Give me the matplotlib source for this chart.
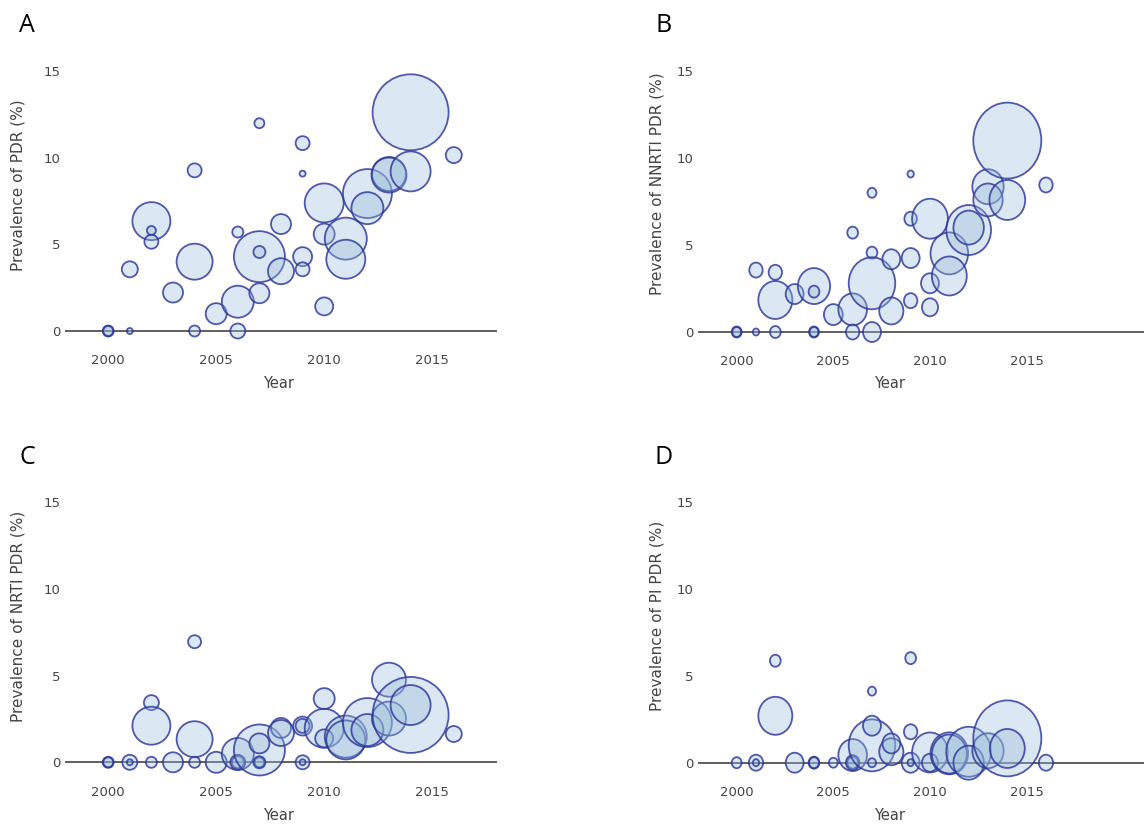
import matplotlib
matplotlib.use('Agg')
import matplotlib.pyplot as plt
import numpy as np
from matplotlib.path import Path
from matplotlib.markers import MarkerStyle
from matplotlib.transforms import Affine2D

# panel A: overall PDR
year_a = [2000, 2000, 2001, 2001, 2002, 2002, 2002, 2003, 2004, 2004, 2004, 2005,
          2006, 2006, 2006, 2007, 2007, 2007, 2007, 2008, 2008, 2009, 2009, 2009,
          2009, 2010, 2010, 2010, 2011, 2011, 2012, 2012, 2013, 2013, 2014, 2014, 2016]
prev_a = [0, 0, 0, 3.56, 6.34, 5.8, 5.15, 2.22, 9.27, 4.0, 0, 1.0,
          1.69, 5.71, 0, 11.99, 4.29, 4.56, 2.18, 6.17, 3.45, 10.84, 9.08, 4.29,
          3.56, 7.39, 5.59, 1.42, 5.33, 4.14, 7.93, 7.09, 9.06, 9.0, 12.62, 9.21, 10.15]
n_a = [54, 44, 16, 114, 642, 36, 87, 178, 87, 576, 54, 196,
       455, 54, 100, 44, 1156, 64, 178, 178, 300, 87, 16, 160,
       87, 676, 196, 144, 784, 676, 1067, 455, 514, 544, 2567, 711, 114]

# panel B: NNRTI PDR
year_b = [2000, 2000, 2001, 2001, 2002, 2002, 2002, 2003, 2004, 2004, 2004, 2004,
          2005, 2006, 2006, 2006, 2007, 2007, 2007, 2007, 2008, 2008, 2009, 2009,
          2009, 2009, 2010, 2010, 2010, 2011, 2011, 2012, 2012, 2013, 2013, 2014,
          2014, 2016]
prev_b = [0, 0, 0, 3.56, 0, 3.43, 1.84, 2.18, 2.64, 2.32, 0, 0,
          1.0, 1.30, 5.71, 0, 8.0, 4.56, 2.80, 0, 4.18, 1.21, 9.08, 6.51,
          4.25, 1.80, 6.51, 2.80, 1.42, 4.52, 3.22, 5.86, 6.0, 8.35, 7.59, 11.0,
          7.59, 8.45]
n_b = [54, 44, 22, 100, 64, 100, 642, 178, 576, 64, 54, 44,
       196, 455, 64, 100, 44, 64, 1202, 178, 178, 324, 22, 87,
       178, 100, 711, 178, 144, 784, 676, 1111, 514, 544, 480, 2567,
       711, 100]

# panel C: NRTI PDR
year_c = [2000, 2000, 2001, 2001, 2002, 2002, 2002, 2003, 2004, 2004, 2004, 2005,
          2006, 2006, 2006, 2007, 2007, 2007, 2007, 2008, 2008, 2009, 2009, 2009,
          2009, 2010, 2010, 2010, 2011, 2011, 2012, 2012, 2013, 2013, 2014, 2014, 2016]
prev_c = [0, 0, 0, 0, 0, 3.44, 2.11, 0, 6.95, 1.33, 0, 0,
          0.48, 0, 0, 0.71, 1.09, 0, 0, 1.98, 1.69, 2.09, 2.1, 0,
          0, 3.67, 1.96, 1.38, 1.48, 1.29, 2.29, 1.86, 4.76, 2.52, 2.73, 3.30, 1.63]
n_c = [54, 44, 100, 16, 54, 100, 642, 178, 75, 576, 54, 196,
       455, 64, 100, 1156, 178, 44, 64, 178, 300, 160, 87, 87,
       16, 196, 676, 144, 784, 676, 1067, 455, 514, 514, 2567, 711, 114]

# panel D: PI PDR
year_d = [2000, 2001, 2001, 2002, 2002, 2003, 2004, 2004, 2005, 2006, 2006, 2006,
          2007, 2007, 2007, 2007, 2008, 2008, 2009, 2009, 2009, 2009, 2010, 2010,
          2011, 2011, 2012, 2012, 2013, 2014, 2014, 2016]
prev_d = [0, 0, 0, 5.87, 2.70, 0, 0, 0, 0, 0.44, 0, 0,
          1.0, 2.13, 4.12, 0, 0.63, 1.11, 6.02, 1.78, 0, 0, 0.59, 0,
          0.54, 0.5, 0.63, 0, 0.69, 1.40, 0.82, 0]
n_d = [54, 114, 22, 64, 642, 178, 64, 54, 44, 455, 64, 100,
       1202, 178, 36, 36, 324, 178, 64, 100, 178, 22, 711, 144,
       784, 676, 1111, 514, 544, 2567, 676, 114]

W, H = 1144, 824
FILL = (0.59, 0.73, 0.85, 0.34)
EDGE = (0.17, 0.21, 0.60, 0.82)
GREY = '#444444'


def bubble_marker(squeeze):
    circle = Path.unit_circle()
    verts = Affine2D().scale(squeeze, 1.0).transform(circle.vertices)
    return MarkerStyle(Path(verts, circle.codes))


def draw_panel(rect_px, xlim, years, prev, n, squeeze, letter, ylabel, ylab_px, xlab_px):
    left, right, zero, unit = rect_px
    ymin, ymax = -1.1, 16
    bottom = zero + (-ymin) * unit
    top = zero - ymax * unit
    ax = fig.add_axes([left / W, 1 - bottom / H, (right - left) / W, (bottom - top) / H])

    diam_pt = 1.5 * np.sqrt(np.array(n, dtype=float)) * 0.72
    ax.scatter(years, prev, s=diam_pt ** 2, marker=bubble_marker(squeeze),
               facecolors=[FILL], edgecolors=[EDGE], linewidths=1.3, zorder=3)
    ax.axhline(0, color=GREY, lw=1.2, zorder=1)

    ax.set_xlim(*xlim)
    ax.set_ylim(ymin, ymax)
    ax.set_xticks([2000, 2005, 2010, 2015])
    ax.set_yticks([0, 5, 10, 15])
    ax.tick_params(length=0, labelsize=9.5, labelcolor=GREY, pad=3)
    for sp in ax.spines.values():
        sp.set_visible(False)
    ax.patch.set_alpha(0)

    fig.text(ylab_px[0] / W, 1 - ylab_px[1] / H, ylabel, rotation=90,
             ha='center', va='center', fontsize=11, color=GREY)
    fig.text(xlab_px[0] / W, 1 - xlab_px[1] / H, 'Year',
             ha='center', va='center', fontsize=10.5, color=GREY)
    fig.text(letter[0] / W, 1 - letter[1] / H, letter[2],
             ha='center', va='center', fontsize=18, family='Open Sans', color='black')
    return ax


fig = plt.figure(figsize=(W / 100, H / 100), dpi=100)

draw_panel((65, 497, 331, 17.33), (1998, 2018), year_a, prev_a, n_a, 1.0,
           (27, 25, 'A'), 'Prevalence of PDR (%)', (18, 185), (279, 384))
draw_panel((698, 1144, 332, 17.4), (1998, 2021.07), year_b, prev_b, n_b, 0.895,
           (664, 25, 'B'), 'Prevalence of NNRTI PDR (%)', (657, 184), (890, 384))
draw_panel((65, 497, 762.3, 17.35), (1998, 2018), year_c, prev_c, n_c, 1.0,
           (27, 458, 'C'), 'Prevalence of NRTI PDR (%)', (18, 616), (279, 816))
draw_panel((698, 1144, 762.7, 17.37), (1998, 2021.07), year_d, prev_d, n_d, 0.895,
           (664, 458, 'D'), 'Prevalence of PI PDR (%)', (657, 616), (890, 816))

fig.savefig('out.png', dpi=100)
